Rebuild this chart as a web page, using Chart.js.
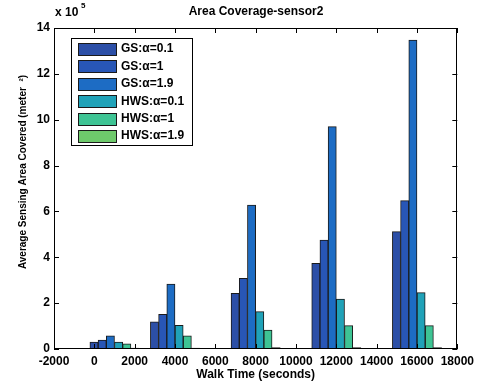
<!DOCTYPE html>
<html>
<head>
<meta charset="utf-8">
<script src="https://cdn.jsdelivr.net/npm/chart.js@4.4.0/dist/chart.umd.min.js"></script>
<style>
  html, body { margin: 0; padding: 0; background: #fff; }
</style>
</head>
<body>
<canvas id="chart" width="479" height="383"></canvas>
<script>
// walk time (seconds) of each group of bars
const walkTimes = [1000, 4000, 8000, 12000, 16000];
// area values in units of 10^5 meter^2
const gsA01 = [0.30, 1.19, 2.43, 3.74, 5.12];
const gsA1 = [0.39, 1.51, 3.08, 4.75, 6.47];
const gsA19 = [0.57, 2.83, 6.28, 9.70, 13.47];
const hwsA01 = [0.30, 1.03, 1.63, 2.18, 2.46];
const hwsA1 = [0.23, 0.57, 0.83, 1.02, 1.02];
const hwsA19 = [0.04, 0.04, 0.06, 0.06, 0.06];

const seriesNames = ["GS:\u03b1=0.1", "GS:\u03b1=1", "GS:\u03b1=1.9", "HWS:\u03b1=0.1", "HWS:\u03b1=1", "HWS:\u03b1=1.9"];
const seriesValues = [gsA01, gsA1, gsA19, hwsA01, hwsA1, hwsA19];
const colors = ["#2c4fa7", "#2856b6", "#1d6cc4", "#20a2b8", "#3ec494", "#6ec96b"];
const xTicks = [-2000, 0, 2000, 4000, 6000, 8000, 10000, 12000, 14000, 16000, 18000];
const yTicks = [0, 2, 4, 6, 8, 10, 12, 14];

const FONT = "'Liberation Sans', Arial, sans-serif";

const datasets = seriesValues.map((vals, i) => ({
  label: seriesNames[i],
  data: vals.map((v, j) => ({ x: walkTimes[j], y: v })),
  backgroundColor: colors[i],
  borderColor: "#1a1a1a",
  borderWidth: 1,
  barThickness: 8.2,
}));

// MATLAB-style box with inward ticks, titles, exponent and legend
const matlabLook = {
  id: "matlabLook",
  afterDatasetsDraw(chart) {
    const { ctx, chartArea: a, scales } = chart;
    const x = scales.x, y = scales.y;
    ctx.save();
    ctx.strokeStyle = "#000";
    ctx.lineWidth = 1;
    ctx.strokeRect(Math.round(a.left) + 0.5, Math.round(a.top) + 0.5, Math.round(a.width) - 1, Math.round(a.height) - 1);
    ctx.beginPath();
    xTicks.forEach(t => {
      const px = Math.round(x.getPixelForValue(t)) + 0.5;
      ctx.moveTo(px, a.bottom); ctx.lineTo(px, a.bottom - 5);
      ctx.moveTo(px, a.top); ctx.lineTo(px, a.top + 5);
    });
    yTicks.forEach(t => {
      const py = Math.round(y.getPixelForValue(t)) + 0.5;
      ctx.moveTo(a.left, py); ctx.lineTo(a.left + 5, py);
      ctx.moveTo(a.right, py); ctx.lineTo(a.right - 5, py);
    });
    ctx.stroke();

    // title
    ctx.fillStyle = "#000";
    ctx.font = "bold 12px " + FONT;
    ctx.textAlign = "center";
    ctx.textBaseline = "middle";
    ctx.fillText("Area Coverage-sensor2", 256, 12);

    // y axis title
    ctx.save();
    ctx.translate(23, 172);
    ctx.rotate(-Math.PI / 2);
    ctx.font = "bold 10px " + FONT;
    ctx.fillText("Average Sensing Area Covered (meter  \u00b2)", 0, 0);
    ctx.restore();

    // exponent
    ctx.textAlign = "left";
    ctx.font = "bold 12px " + FONT;
    ctx.fillText("x 10", a.left + 1, 13);
    ctx.font = "bold 8px " + FONT;
    ctx.fillText("5", a.left + 27, 6);

    // legend
    const lx = 71, ly = 38, lw = 121, lh = 107, rowH = 17.4;
    ctx.fillStyle = "#fff";
    ctx.fillRect(lx, ly, lw, lh);
    ctx.strokeStyle = "#000";
    ctx.strokeRect(lx + 0.5, ly + 0.5, lw, lh);
    ctx.font = "bold 12px " + FONT;
    chart.data.datasets.forEach((ds, i) => {
      const cy = 49 + i * rowH;
      ctx.fillStyle = ds.backgroundColor;
      ctx.fillRect(lx + 7, Math.round(cy - 6), 38, 12);
      ctx.strokeStyle = "#1a1a1a";
      ctx.strokeRect(lx + 7.5, Math.round(cy - 6) + 0.5, 38, 12);
      ctx.fillStyle = "#000";
      ctx.fillText(ds.label, 121, cy);
    });
    ctx.restore();
  }
};

new Chart(document.getElementById("chart"), {
  type: "bar",
  data: { datasets: datasets },
  options: {
    responsive: false,
    animation: false,
    devicePixelRatio: 1,
    layout: { padding: { top: 28, right: 18, left: 0, bottom: 0 } },
    plugins: {
      legend: { display: false },
      tooltip: { enabled: false },
    },
    scales: {
      x: {
        type: "linear",
        min: -2000,
        max: 18000,
        offset: false,
        grid: { display: false, drawTicks: false },
        border: { display: false },
        afterBuildTicks: (scale) => { scale.ticks = xTicks.map(v => ({ value: v })); },
        afterFit: (scale) => { scale.height = 34; },
        ticks: {
          color: "#000",
          padding: 5,
          maxRotation: 0,
          autoSkip: false,
          font: { family: FONT, size: 12, weight: "bold" },
          callback: (v) => String(v),
        },
        title: {
          display: true,
          text: "Walk Time (seconds)",
          color: "#000",
          padding: { top: 0, bottom: 1 },
          font: { family: FONT, size: 12, weight: "bold" },
        },
      },
      y: {
        min: 0,
        max: 14,
        grid: { display: false, drawTicks: false },
        border: { display: false },
        afterBuildTicks: (scale) => { scale.ticks = yTicks.map(v => ({ value: v })); },
        afterFit: (scale) => { scale.width = 54; },
        ticks: {
          color: "#000",
          padding: 4,
          font: { family: FONT, size: 12, weight: "bold" },
        },
      },
    },
  },
  plugins: [matlabLook],
});
</script>
</body>
</html>
